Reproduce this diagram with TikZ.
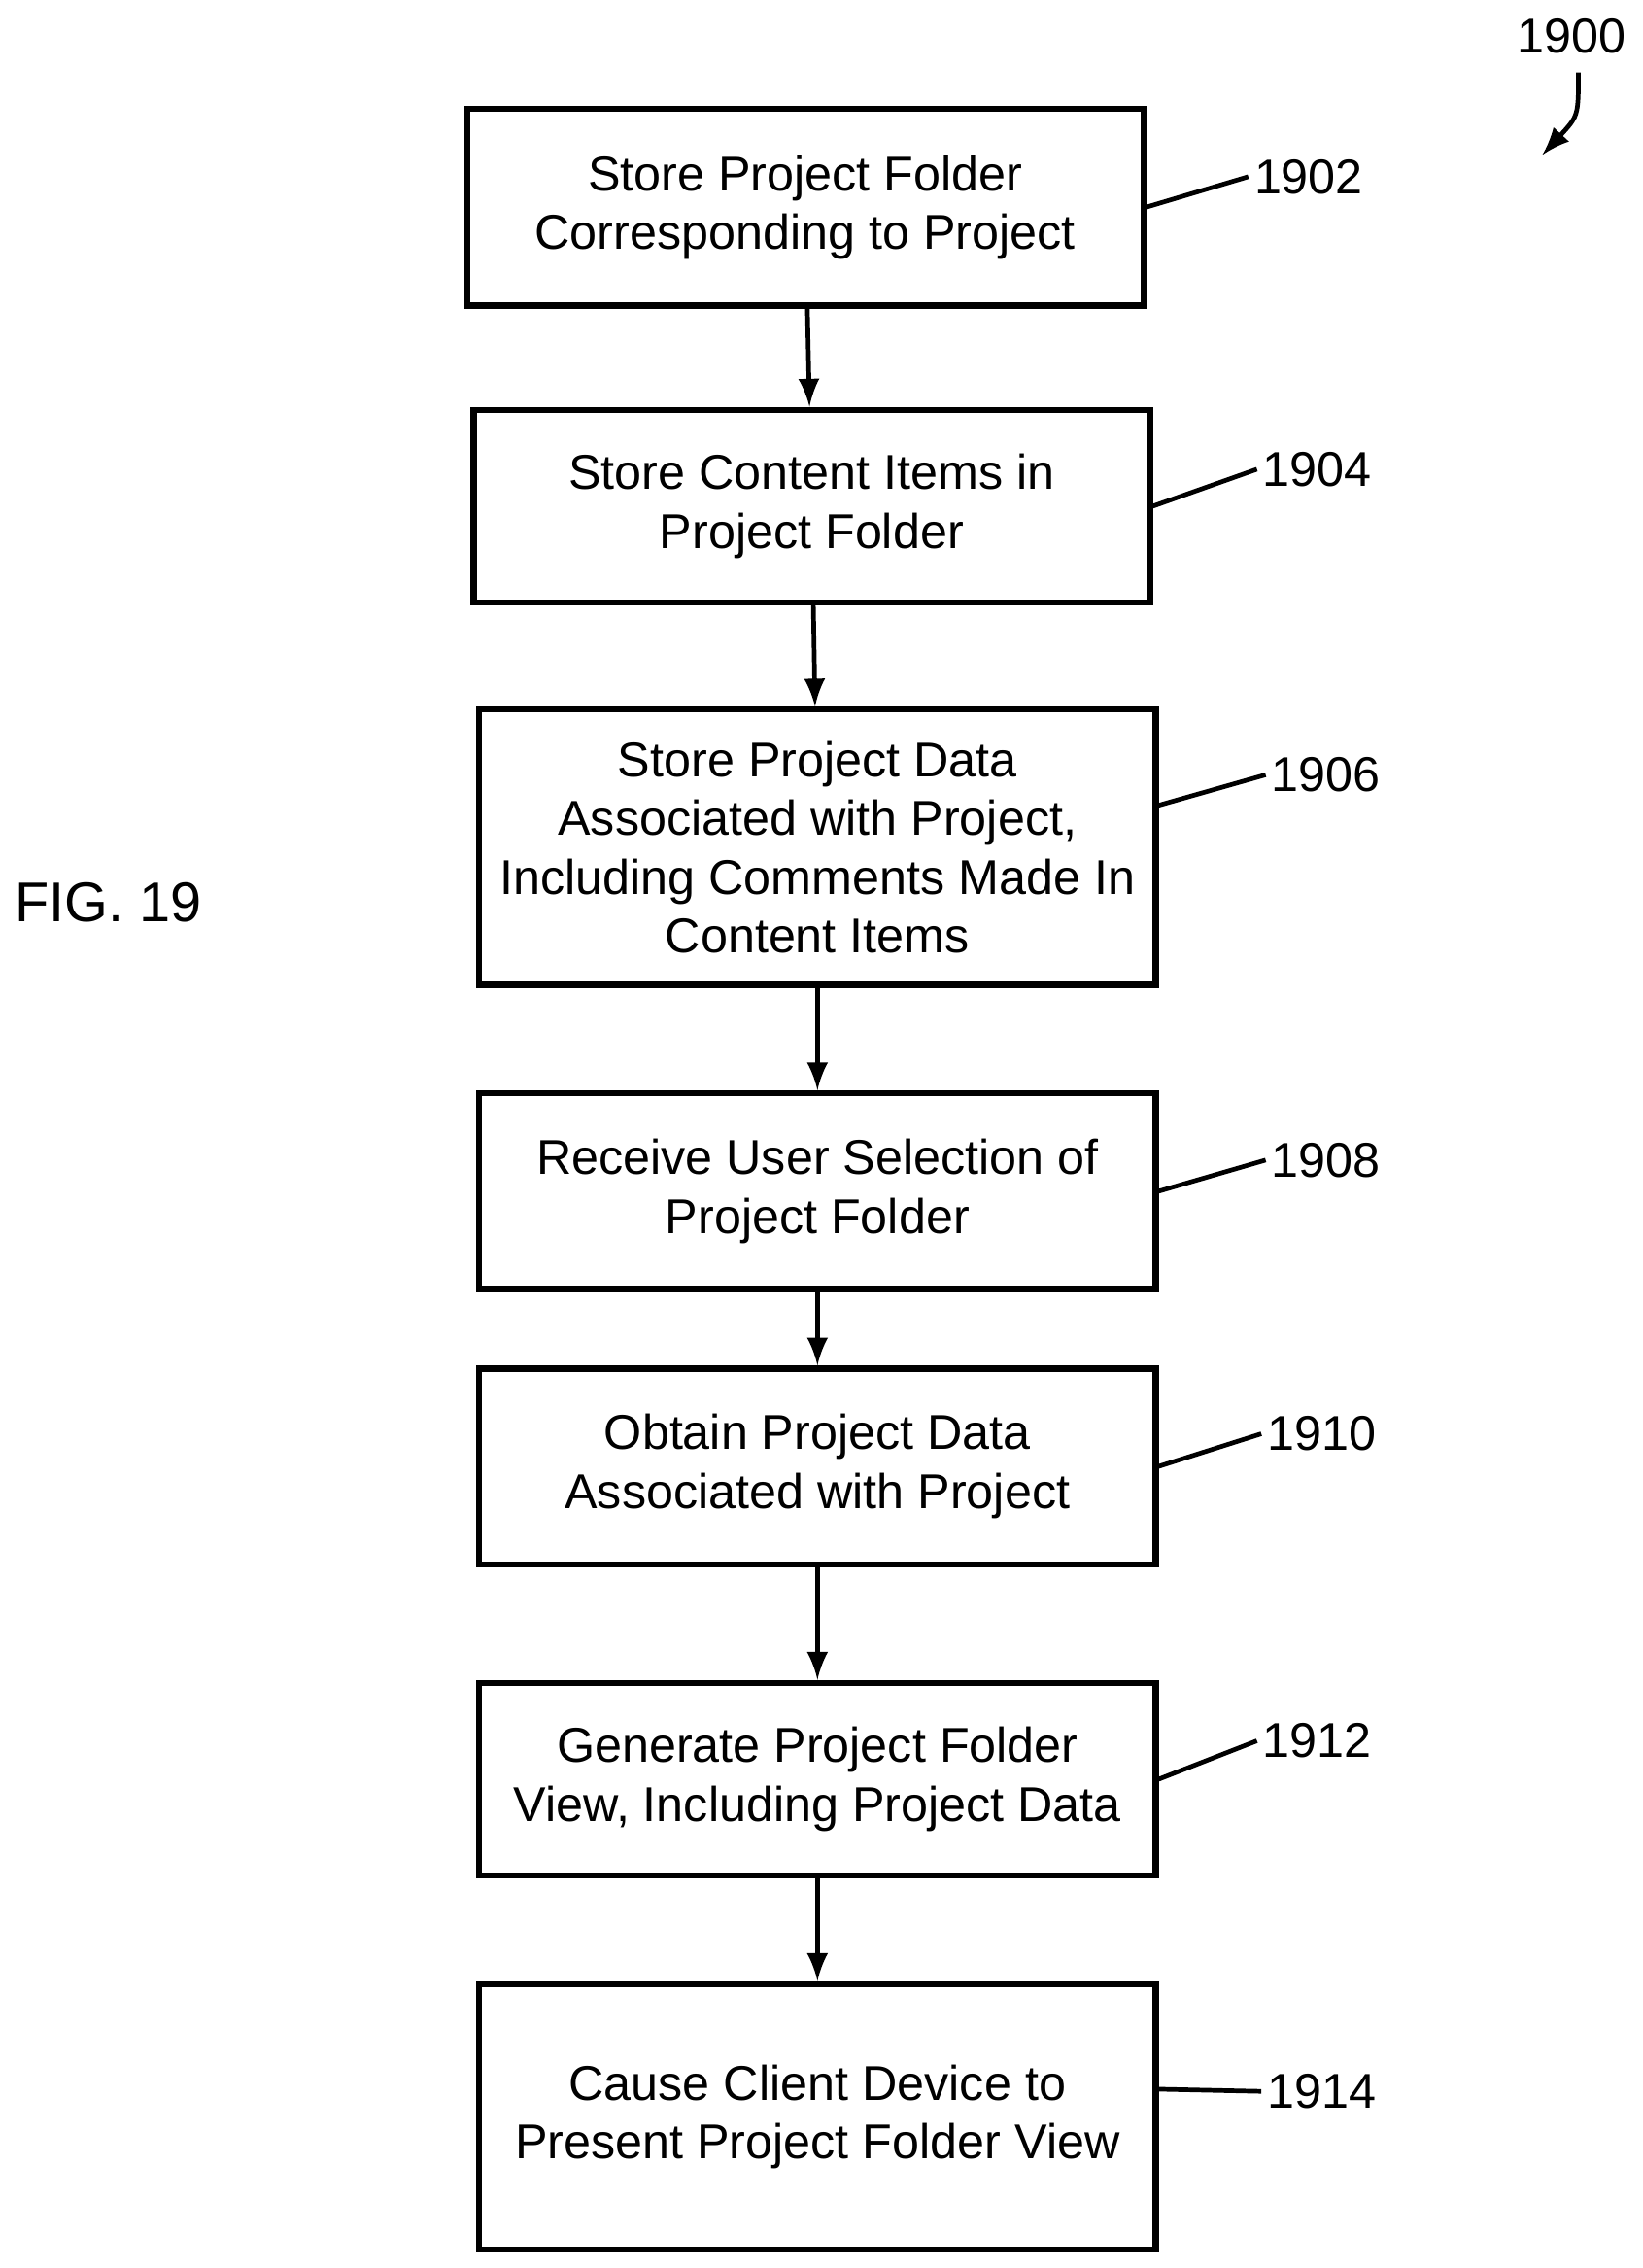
\documentclass[tikz,border=0pt]{standalone}
\usepackage{fontspec}
\setmainfont{Liberation Sans}
\usetikzlibrary{positioning,calc}
\tikzset{
  flowbox/.style={draw=black,line width=1.2pt,minimum width=4.67cm,align=center,font=\fontsize{9.6pt}{11.5pt}\selectfont},
  lbl/.style={font=\fontsize{9.6pt}{11.5pt}\selectfont,anchor=west,inner sep=1pt},
  flow/.style={-latex,line width=0.9pt},
}
\begin{document}
\begin{tikzpicture}[x=1cm,y=1cm]
		\useasboundingbox (0,0) rectangle (11.34,-15.66);
		\node[flowbox,minimum height=1.36cm] (s1902) at (5.56,-1.43) {Store Project Folder\\Corresponding to Project};
		\node[flowbox,minimum height=1.33cm] (s1904) at (5.605,-3.495) {Store Content Items in\\Project Folder};
		\node[flowbox,minimum height=1.90cm] (s1906) at (5.645,-5.85) {Store Project Data\\Associated with Project,\\Including Comments Made In\\Content Items};
		\node[flowbox,minimum height=1.35cm] (s1908) at (5.645,-8.225) {Receive User Selection of\\Project Folder};
		\node[flowbox,minimum height=1.35cm] (s1910) at (5.645,-10.125) {Obtain Project Data\\Associated with Project};
		\node[flowbox,minimum height=1.33cm] (s1912) at (5.645,-12.285) {Generate Project Folder\\View, Including Project Data};
		\node[flowbox,minimum height=1.83cm] (s1914) at (5.645,-14.615) {Cause Client Device to\\Present Project Folder View};
		
		\draw[flow] (s1902)--(s1904);
		\draw[flow] (s1904)--(s1906);
		\draw[flow] (s1906)--(s1908);
		\draw[flow] (s1908)--(s1910);
		\draw[flow] (s1910)--(s1912);
		\draw[flow] (s1912)--(s1914);
		
		\node[lbl] (n1902) at (8.62,-1.22) {1902};
		\node[lbl] (n1904) at (8.68,-3.24) {1904};
		\node[lbl] (n1906) at (8.74,-5.35) {1906};
		\node[lbl] (n1908) at (8.74,-8.01) {1908};
		\node[lbl] (n1910) at (8.71,-9.90) {1910};
		\node[lbl] (n1912) at (8.68,-12.02) {1912};
		\node[lbl] (n1914) at (8.71,-14.44) {1914};
		\draw[line width=0.9pt] (s1902.east)--(n1902.west);
		\draw[line width=0.9pt] (s1904.east)--(n1904.west);
		\draw[line width=0.9pt] ($(s1906.east)+(0,0.29)$)--(n1906.west);
		\draw[line width=0.9pt] (s1908.east)--(n1908.west);
		\draw[line width=0.9pt] (s1910.east)--(n1910.west);
		\draw[line width=0.9pt] (s1912.east)--(n1912.west);
		\draw[line width=0.9pt] ($(s1914.east)+(0,0.19)$)--(n1914.west);
		
		\node[lbl,anchor=center] (n1900) at (10.85,-0.25) {1900};
		\coordinate (tip) at (10.65,-1.07);
		\draw[-latex,line width=0.9pt] (10.9,-0.5) .. controls (10.9,-0.8) .. (tip);
		\node[font=\fontsize{11pt}{13pt}\selectfont] (fig) at (0.75,-6.23) {FIG. 19};
	\end{tikzpicture}
\end{document}
